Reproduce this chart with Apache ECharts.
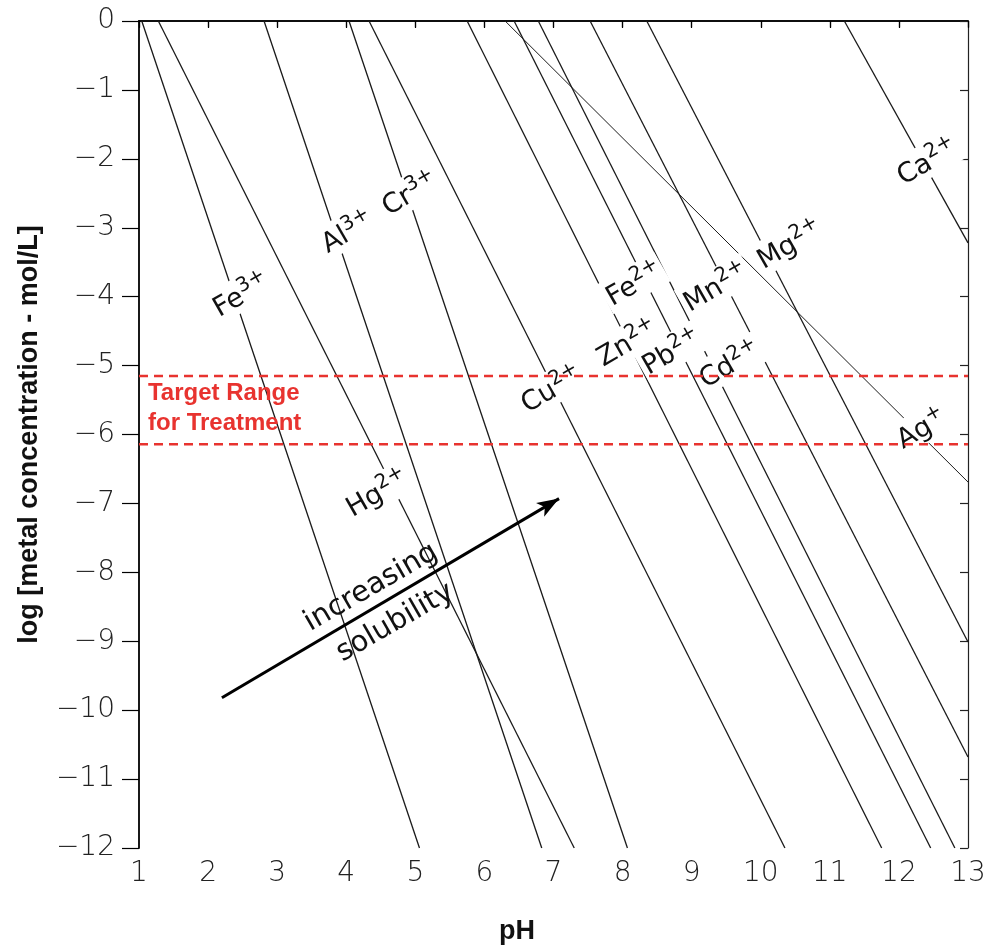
<!DOCTYPE html>
<html><head><meta charset="utf-8">
<script src="https://cdn.jsdelivr.net/npm/echarts@6/dist/echarts.min.js"></script>
<style>html,body{margin:0;padding:0;background:#fff}#c{width:991px;height:948px}</style>
</head><body><div id="c"></div>
<script>
// ---- data ----
const metalNames = ['Fe3+','Hg2+','Al3+','Cr3+','Cu2+','Zn2+','Ag+','Fe2+','Pb2+','Mn2+','Mg2+','Ca2+'];
const startPH  = [1.04, 1.28, 2.81, 4.04, 4.33, 5.75, 6.30, 6.43, 6.78, 7.53, 8.35, 11.21];
const startLog = [0, 0, 0, 0, 0, 0, 0, 0, 0, 0, 0, 0];
const endPH    = [5.06, 7.30, 6.83, 8.07, 10.35, 11.75, 13, 12.46, 12.81, 13, 13, 13];
const endLog   = [-12, -12, -12, -12, -12, -12, -6.69, -12, -12, -10.68, -9.01, -3.22];

const labelNames = ['Fe3+','Al3+','Cr3+','Hg2+','Cu2+','Zn2+','Fe2+','Pb2+','Mn2+','Cd2+','Mg2+','Ca2+','Ag+'];
const labelPH    = [2.47, 4.01, 4.91, 4.44, 6.96, 8.06, 8.16, 8.70, 9.34, 9.54, 10.41, 12.40, 12.32];
const labelLog   = [-3.96, -3.05, -2.49, -6.84, -5.33, -4.66, -3.80, -4.79, -3.85, -4.97, -3.23, -2.03, -5.90];

const targetRange = [-5.15, -6.14];
const targetText = 'Target Range\nfor Treatment';
const targetTextPos = [1.13, -5.62];

const arrowStart = [2.20, -9.82];
const arrowEnd   = [7.08, -6.93];
const arrowTexts = ['increasing', 'solubility'];
const arrowTextPH  = [4.36, 4.71];
const arrowTextLog = [-8.22, -8.73];

const xMin = 1, xMax = 13, yMin = -12, yMax = 0;

// ---- chart ----
const chart = echarts.init(document.getElementById('c'), null, {renderer: 'canvas'});
const RED = '#e8332f';
const LINEC = '#1a1a1a';
const tickFont = 'DejaVu Sans';
const hidden = {color: 'rgba(0,0,0,0)', opacity: 1};

const series = [];
metalNames.forEach((n, i) => {
  series.push({
    name: n, type: 'line', xAxisIndex: 0, yAxisIndex: 0,
    data: [[startPH[i], startLog[i]], [endPH[i], endLog[i]]],
    symbol: 'none', silent: true, z: 2,
    lineStyle: {color: LINEC, width: n === 'Ag+' ? 1.0 : 1.3}
  });
});
targetRange.forEach(v => {
  series.push({
    type: 'line', data: [[xMin, v], [xMax, v]], symbol: 'none', silent: true, z: 7,
    lineStyle: {color: RED, width: 2.5, type: [9, 6]}
  });
});
// arrow
series.push({
  type: 'line', data: [arrowStart, arrowEnd], silent: true, z: 4, symbol: 'none',
  lineStyle: {width: 0, opacity: 0},
  markLine: {
    silent: true, symbol: ['none', 'arrow'], symbolSize: [12, 22], animation: false,
    label: {show: false},
    itemStyle: {color: '#000'},
    lineStyle: {color: '#000', width: 3, type: 'solid'},
    data: [[{coord: arrowStart}, {coord: arrowEnd}]]
  }
});
// ion labels
series.push({
  type: 'scatter', z: 5, silent: true, symbolSize: 1, itemStyle: hidden,
  data: labelNames.map((n, i) => [labelPH[i], labelLog[i], n]),
  label: {
    show: true, position: 'inside', rotate: 30, backgroundColor: '#fff', padding: [1, 3],
    formatter: p => {
      const m = p.data[2].match(/^([A-Za-z]+)(.*)$/);
      return '{b|' + m[1] + '}{s|' + m[2] + '}';
    },
    rich: {
      b: {fontSize: 27, fontFamily: 'DejaVu Sans', color: '#111', verticalAlign: 'bottom', lineHeight: 32},
      s: {fontSize: 20, fontFamily: 'DejaVu Sans', color: '#111', verticalAlign: 'top', lineHeight: 15}
    }
  }
});
// arrow texts
series.push({
  type: 'scatter', z: 5, silent: true, symbolSize: 1, itemStyle: hidden,
  data: arrowTexts.map((t, i) => [arrowTextPH[i], arrowTextLog[i], t]),
  label: {
    show: true, position: 'inside', rotate: 30,
    formatter: p => p.data[2],
    fontSize: 29, fontFamily: 'DejaVu Sans', color: '#111'
  }
});
// target text
series.push({
  type: 'scatter', z: 8, silent: true, symbolSize: 1, itemStyle: hidden,
  data: [[targetTextPos[0], targetTextPos[1], targetText]],
  label: {
    show: true, position: 'inside', align: 'left', verticalAlign: 'middle',
    formatter: p => p.data[2],
    fontSize: 24, fontWeight: 'bold', fontFamily: 'Liberation Sans', color: RED, lineHeight: 30
  }
});

const option = {
  animation: false,
  backgroundColor: '#fff',
  grid: {left: 139, right: 23, top: 21, bottom: 100, containLabel: false},
  xAxis: [
    {type: 'value', min: xMin, max: xMax, interval: 1, position: 'bottom',
     axisLine: {show: true, lineStyle: {color: '#000', width: 1.5}},
     axisTick: {show: true, length: 7, lineStyle: {color: '#000', width: 1.2}},
     axisLabel: {fontSize: 28, fontFamily: tickFont, fontWeight: 200, color: '#222', margin: 12},
     splitLine: {show: false}},
    {type: 'value', min: xMin, max: xMax, interval: 1, position: 'top',
     axisLine: {show: true, lineStyle: {color: '#000', width: 1.5}},
     axisTick: {show: true, inside: true, length: 6, lineStyle: {color: '#000', width: 1.2}},
     axisLabel: {show: false}, splitLine: {show: false}}
  ],
  yAxis: [
    {type: 'value', min: yMin, max: yMax, interval: 1, position: 'left',
     name: 'log [metal concentration - mol/L]', nameLocation: 'middle', nameGap: 96, nameRotate: 90,
     nameTextStyle: {fontSize: 27, fontWeight: 'bold', fontFamily: 'Liberation Sans', color: '#111'},
     axisLine: {show: true, lineStyle: {color: '#000', width: 1.8}},
     axisTick: {show: true, length: 17, lineStyle: {color: '#000', width: 1.2}},
     axisLabel: {fontSize: 28, fontFamily: tickFont, fontWeight: 200, color: '#222', margin: 24,
       formatter: v => v < 0 ? '\u2212' + Math.abs(v) : String(v)},
     splitLine: {show: false}},
    {type: 'value', min: yMin, max: yMax, interval: 1, position: 'right',
     axisLine: {show: true, lineStyle: {color: '#222', width: 1.2}},
     axisTick: {show: true, inside: true, length: 8, lineStyle: {color: '#222', width: 1.2}},
     axisLabel: {show: false}, splitLine: {show: false}}
  ],
  graphic: [
    {type: 'text', x: 517, y: 932, silent: true,
     style: {text: 'pH', font: 'bold 27px "Liberation Sans"', fill: '#111', align: 'center', verticalAlign: 'middle'}}
  ],
  series: series
};
chart.setOption(option);
</script>
</body></html>
